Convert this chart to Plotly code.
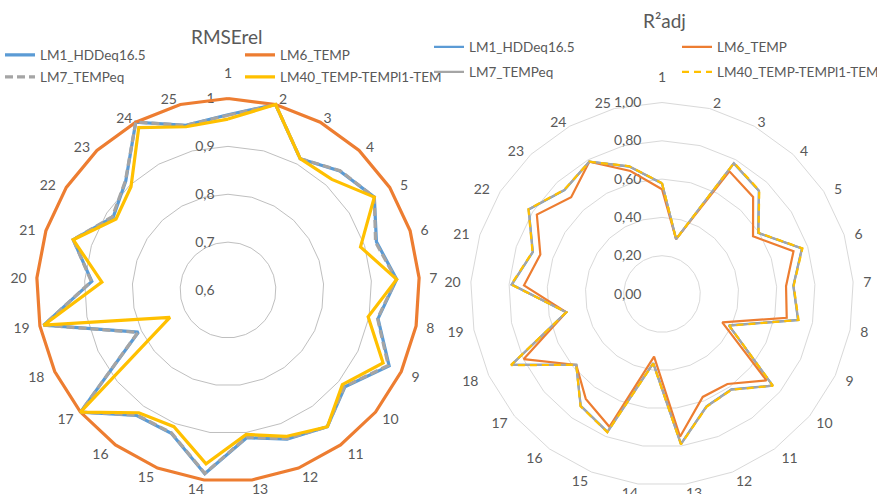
import math
import plotly.graph_objects as go

# Category axis: 25 cases, clockwise from the top
categories = [str(i) for i in range(1, 26)]

series_names = ["LM1_HDDeq16.5", "LM6_TEMP", "LM7_TEMPeq", "LM40_TEMP-TEMPl1-TEM"]
series_colors = ["#5B9BD5", "#ED7D31", "#A5A5A5", "#FFC000"]

# Relative RMSE (LM6_TEMP is the reference model = 1)
rmse_lm1 = [0.966, 1.000, 0.913, 0.941, 0.962, 0.926, 0.953, 0.919, 0.972, 0.917,
            0.953, 0.935, 0.911, 0.987, 0.922, 0.924, 1.000, 0.807, 0.992, 0.885,
            0.940, 0.884, 0.912, 1.000, 0.955]
rmse_lm6 = [1.000, 1.000, 1.000, 1.000, 1.000, 1.000, 1.000, 1.000, 1.000, 1.000,
            1.000, 1.000, 1.000, 1.000, 1.000, 1.000, 1.000, 1.000, 1.000, 1.000,
            1.000, 1.000, 1.000, 1.000, 1.000]
rmse_lm7 = [0.965, 1.000, 0.913, 0.942, 0.962, 0.924, 0.952, 0.918, 0.970, 0.916,
            0.953, 0.934, 0.910, 0.986, 0.921, 0.923, 1.000, 0.808, 0.992, 0.886,
            0.940, 0.886, 0.913, 1.000, 0.955]
rmse_lm40 = [0.957, 1.000, 0.913, 0.917, 0.962, 0.891, 0.953, 0.898, 0.958, 0.910,
             0.953, 0.929, 0.904, 0.966, 0.907, 0.917, 1.000, 0.734, 0.992, 0.864,
             0.940, 0.877, 0.896, 0.987, 0.952]

# Adjusted R squared
r2_lm1 = [0.577, 0.296, 0.778, 0.739, 0.595, 0.768, 0.687, 0.723, 0.386, 0.750,
          0.616, 0.631, 0.789, 0.364, 0.774, 0.722, 0.581, 0.868, 0.509, 0.786,
          0.709, 0.824, 0.744, 0.788, 0.687]
r2_lm6 = [0.547, 0.296, 0.731, 0.695, 0.563, 0.722, 0.649, 0.663, 0.348, 0.708,
          0.581, 0.578, 0.751, 0.330, 0.746, 0.677, 0.581, 0.798, 0.509, 0.722,
          0.668, 0.774, 0.693, 0.788, 0.663]
r2_lm7 = [0.578, 0.296, 0.779, 0.740, 0.596, 0.769, 0.688, 0.724, 0.387, 0.751,
          0.617, 0.632, 0.790, 0.365, 0.775, 0.723, 0.581, 0.869, 0.509, 0.787,
          0.710, 0.825, 0.745, 0.788, 0.688]
r2_lm40 = [0.579, 0.296, 0.781, 0.742, 0.597, 0.771, 0.689, 0.726, 0.388, 0.752,
           0.618, 0.633, 0.791, 0.366, 0.776, 0.724, 0.581, 0.872, 0.509, 0.789,
           0.711, 0.826, 0.746, 0.788, 0.689]

rmse_ticks = [0.6, 0.7, 0.8, 0.9, 1.0]
rmse_ticktext = ["0,6", "0,7", "0,8", "0,9", "1"]
r2_ticks = [0.0, 0.2, 0.4, 0.6, 0.8, 1.0]
r2_ticktext = ["0,00", "0,20", "0,40", "0,60", "0,80", "1,00"]

W, H = 877, 494
FONT = "Lato"
TXT = "#595959"
NBSP = "\u00a0"


def category_ticktext():
    # Side labels get a little extra breathing room from the outer ring;
    # the first label sits one line higher, clear of the radial "1" label.
    out = []
    n = len(categories)
    for k, c in enumerate(categories):
        pad = NBSP * round(3 * abs(math.sin(2 * math.pi * k / n)))
        txt = pad + c + pad
        if k == 0:
            txt = c + "<br>" + NBSP
        out.append(txt)
    return out


fig = go.Figure()

# Left panel: RMSErel
rmse_series = [rmse_lm1, rmse_lm6, rmse_lm7, rmse_lm40]
rmse_dash = ["solid", "solid", "8px,4px", "solid"]
for i, vals in enumerate(rmse_series):
    fig.add_trace(go.Scatterpolar(
        r=vals + vals[:1], theta=categories + categories[:1],
        mode="lines", name=series_names[i], subplot="polar",
        line=dict(color=series_colors[i], width=3.2, dash=rmse_dash[i]),
        legend="legend" if i == 0 else f"legend{i + 1}",
        hoverinfo="skip",
    ))

# Right panel: R²adj
r2_series = [r2_lm1, r2_lm6, r2_lm7, r2_lm40]
r2_dash = ["solid", "solid", "solid", "7px,5px"]
for i, vals in enumerate(r2_series):
    fig.add_trace(go.Scatterpolar(
        r=vals + vals[:1], theta=categories + categories[:1],
        mode="lines", name=series_names[i], subplot="polar2",
        line=dict(color=series_colors[i], width=2.2, dash=r2_dash[i]),
        legend=f"legend{i + 5}",
        hoverinfo="skip",
    ))

# Transparent carriers for the category-label rings (polar3 / polar4)
for sp, vals in (("polar3", rmse_lm6), ("polar4", r2_lm6)):
    fig.add_trace(go.Scatterpolar(
        r=vals, theta=categories, mode="markers", subplot=sp,
        marker=dict(opacity=0, size=1), showlegend=False, hoverinfo="skip",
    ))


def px_dom(cx, cy, rad):
    x = [(cx - rad) / W, (cx + rad) / W]
    y = [(H - cy - rad) / H, (H - cy + rad) / H]
    return dict(x=x, y=y)


def polar_cfg(dom, rng, tv, tt, grid, outline, show_outline):
    return dict(
        domain=dom,
        bgcolor="white",
        gridshape="linear",
        angularaxis=dict(
            categoryorder="array", categoryarray=categories,
            direction="clockwise", rotation=90,
            showgrid=False, ticks="", showticklabels=False,
            showline=show_outline, linecolor=outline, linewidth=1,
            layer="below traces",
        ),
        radialaxis=dict(
            range=rng, tickvals=tv, ticktext=tt,
            angle=90, tickangle=90, side="counterclockwise",
            showline=False, ticks="",
            gridcolor=grid, gridwidth=1,
            tickfont=dict(family=FONT, size=14, color=TXT),
            layer="below traces",
        ),
    )


def label_ring_cfg(dom):
    # Ring that only carries the category labels
    return dict(
        domain=dom,
        bgcolor="rgba(0,0,0,0)",
        gridshape="linear",
        angularaxis=dict(
            categoryorder="array", categoryarray=categories,
            tickmode="array", tickvals=categories, ticktext=category_ticktext(),
            direction="clockwise", rotation=90,
            showgrid=False, showline=False, ticks="",
            tickfont=dict(family=FONT, size=14, color=TXT),
        ),
        radialaxis=dict(visible=False, range=[0, 1]),
    )


# The RMSE scale runs a little past 1 so the reference ring is not clipped
rmse_range = [0.6, 1.012]
rmse_outer = 191.5 * (rmse_range[1] - rmse_range[0]) / 0.4

legend_pos = [
    (0, 55), (240, 55), (0, 77), (240, 77),
    (429, 47), (677, 47), (429, 72), (677, 72),
]
layout_legends = {}
for k, (lx, ly) in enumerate(legend_pos):
    key = "legend" if k == 0 else f"legend{k + 1}"
    layout_legends[key] = dict(
        x=lx / W, y=1 - ly / H, xanchor="left", yanchor="middle",
        bgcolor="rgba(0,0,0,0)", borderwidth=0,
        font=dict(family=FONT, size=13.5, color=TXT),
        itemwidth=30,
    )

fig.update_layout(
    width=W, height=H,
    margin=dict(l=0, r=0, t=0, b=0, autoexpand=False),
    paper_bgcolor="white",
    showlegend=True,
    polar=polar_cfg(px_dom(228, 290, rmse_outer), rmse_range, rmse_ticks,
                    [t + NBSP * 3 for t in rmse_ticktext],
                    "#BFBFBF", "#BFBFBF", False),
    polar2=polar_cfg(px_dom(662, 294, 191.5), [0.0, 1.0], r2_ticks,
                     [t + NBSP * 5 for t in r2_ticktext],
                     "#D9D9D9", "#D9D9D9", True),
    polar3=label_ring_cfg(px_dom(228, 290, 190.5)),
    polar4=label_ring_cfg(px_dom(662, 294, 190.5)),
    annotations=[
        dict(text="RMSErel", x=227 / W, y=1 - 36 / H, xref="paper", yref="paper",
             showarrow=False, xanchor="center", yanchor="middle",
             font=dict(family=FONT, size=19, color=TXT)),
        dict(text="R²adj", x=664 / W, y=1 - 20 / H, xref="paper", yref="paper",
             showarrow=False, xanchor="center", yanchor="middle",
             font=dict(family=FONT, size=19, color=TXT)),
    ],
    **layout_legends,
)

fig.write_html("out.html")
